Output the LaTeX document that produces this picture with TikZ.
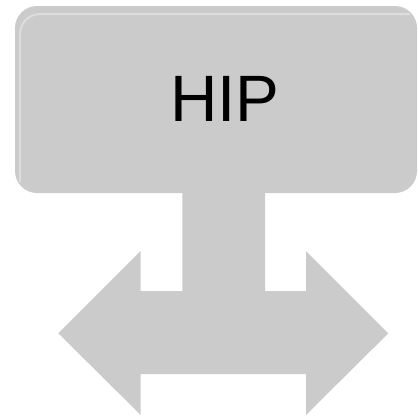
\documentclass[tikz,border=0pt]{standalone}
\usepackage{fontspec}
\setmainfont{Liberation Sans}
\definecolor{HipGray}{RGB}{202,203,202}
\usetikzlibrary{positioning,calc}

\begin{document}
\begin{tikzpicture}[x=1pt,y=-1pt]
  \useasboundingbox (0,0) rectangle (418,416);
  % box
  \node[fill=HipGray,rounded corners=22pt,minimum width=402pt,minimum height=187pt,inner sep=0pt] (hip) at (216,99.5) {};
  \draw[white,opacity=0.35,line width=2pt,rounded corners=20pt] (20,182) -- (20,14) -- (410,14);
  \node[font=\fontsize{65.6}{70}\selectfont,inner sep=0pt] (hiplabel) at (225,98.5) {HIP};
  % stem and double arrow
  \fill[HipGray] (182.3,193) -- (265,193) -- (265,291) -- (306,291) -- (306,251)
    -- (388.3,333.3) -- (306,415) -- (306,374) -- (140.7,374) -- (140.7,415)
    -- (58.3,333.3) -- (140.7,251) -- (140.7,291) -- (182.3,291) -- cycle;
\end{tikzpicture}
\end{document}
